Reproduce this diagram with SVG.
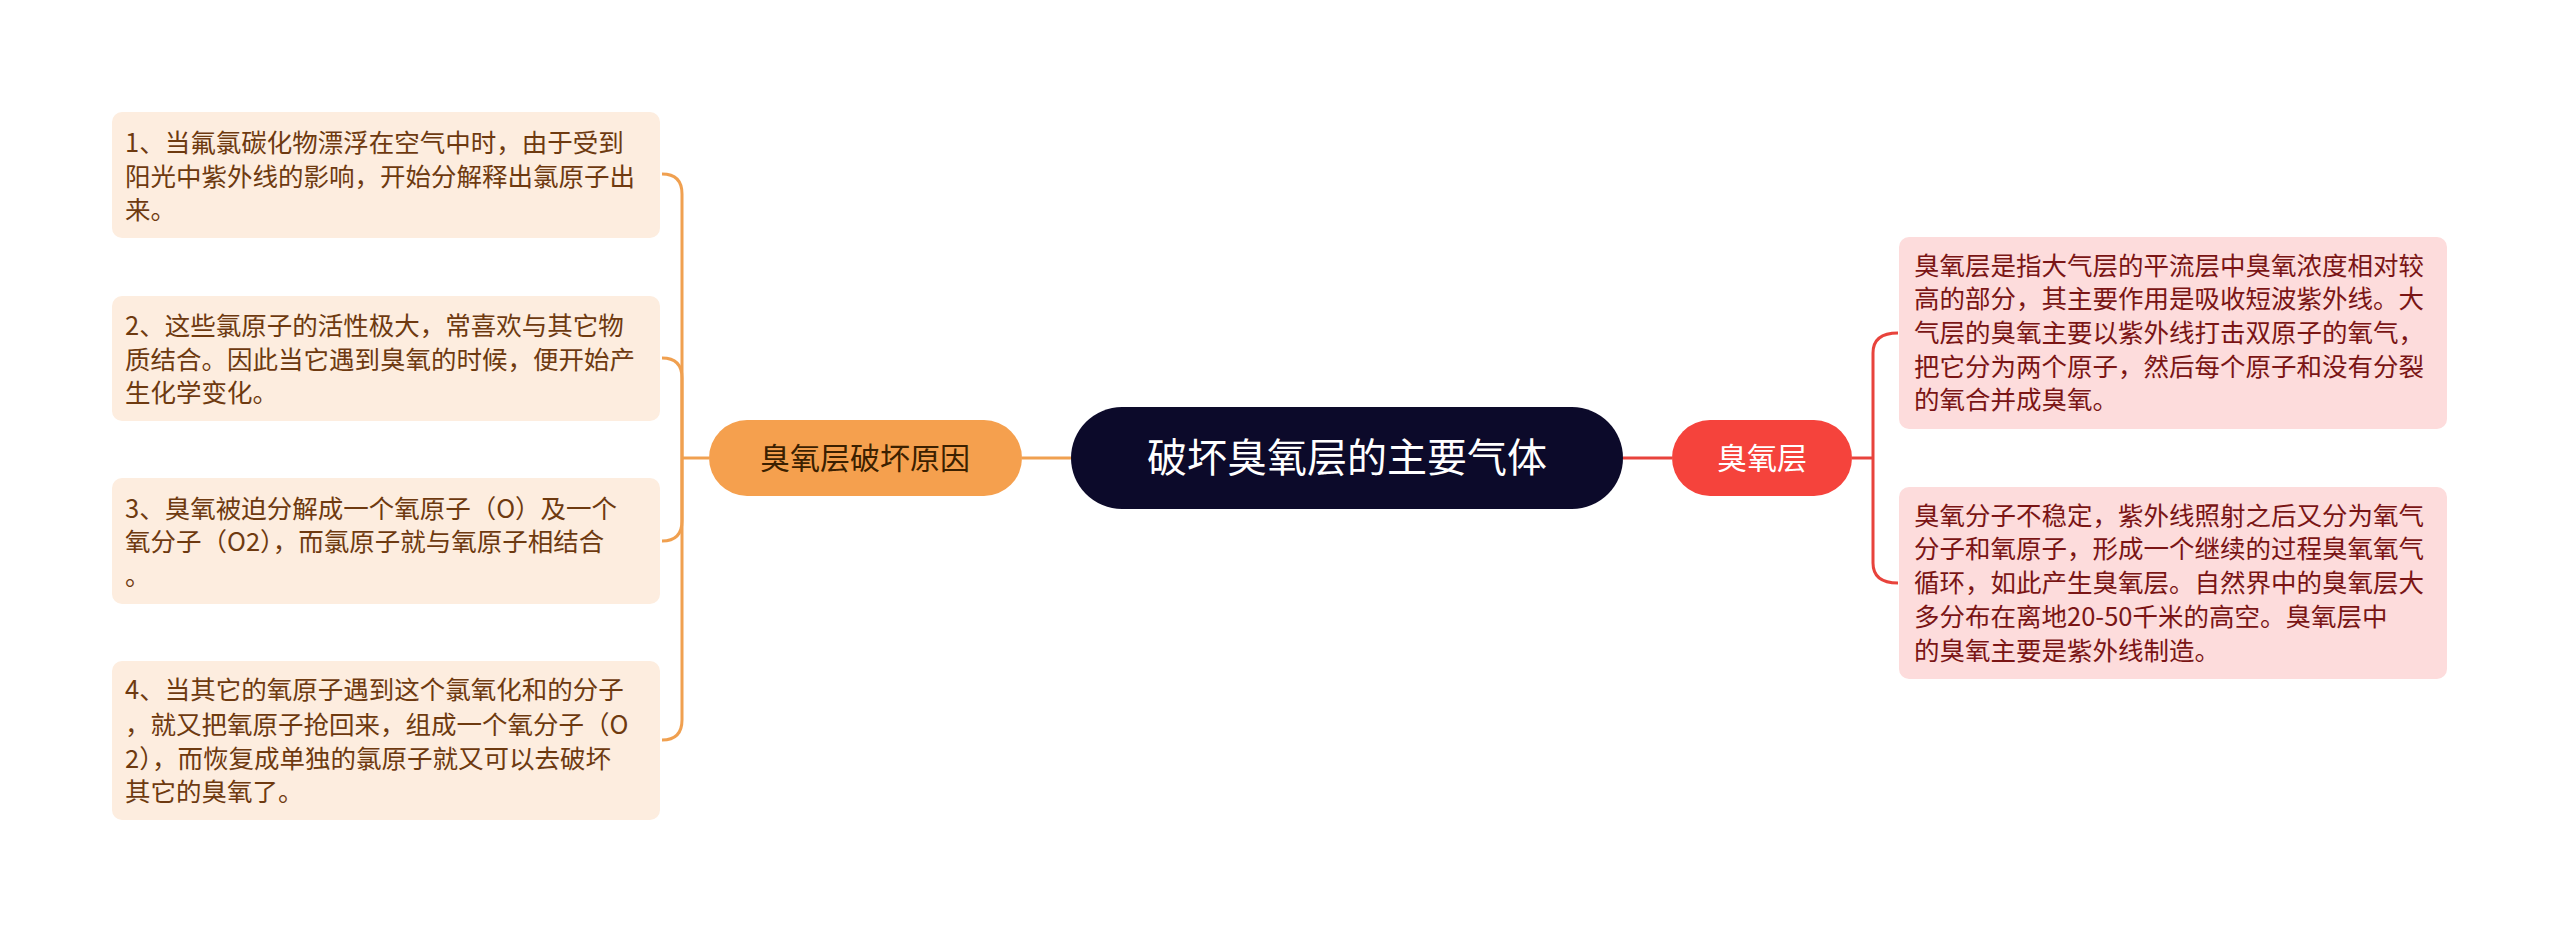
<svg xmlns="http://www.w3.org/2000/svg" width="2560" height="933" viewBox="0 0 2560 933">
<style>
text{font-family:"Noto Sans CJK SC","Noto Sans",sans-serif}
.lb{fill:#fdeddf}
.rb{fill:#fddcdc}
.lt{font-size:25.5px;fill:#6e3a10}
.rt{font-size:25.5px;fill:#7a1515}
.oc{fill:none;stroke:#f0a050;stroke-width:3}
.rc{fill:none;stroke:#e8433c;stroke-width:3}
</style>
<rect width="2560" height="933" fill="#fff"/>
<g id="connectors">
<path class="oc" d="M1071,458 H1022"/>
<path class="oc" d="M709,458 H682"/>
<path class="oc" d="M682,458 V194 Q682,174 662,174"/>
<path class="oc" d="M682,458 V378 Q682,358 662,358"/>
<path class="oc" d="M682,458 V521 Q682,541 662,541"/>
<path class="oc" d="M682,458 V720 Q682,740 662,740"/>
<path class="rc" d="M1623,458 H1672"/>
<path class="rc" d="M1852,458 H1873"/>
<path class="rc" d="M1873,458 V353 Q1873,333 1898,333"/>
<path class="rc" d="M1873,458 V563 Q1873,583 1898,583"/>
</g>
<g id="root">
<rect x="1071" y="407" width="552" height="102" rx="51" fill="#0c0a2a"/>
<text x="1347" y="472" font-size="40" fill="#fff" text-anchor="middle">破坏臭氧层的主要气体</text>
</g>
<g id="cause">
<rect x="709" y="420" width="313" height="76" rx="38" fill="#f5a04e"/>
<text x="865" y="469" font-size="30" fill="#3b2000" text-anchor="middle">臭氧层破坏原因</text>
</g>
<g id="ozone">
<rect x="1672" y="420" width="180" height="76" rx="38" fill="#f5433c"/>
<text x="1762" y="469" font-size="30" fill="#fff" text-anchor="middle">臭氧层</text>
</g>
<g id="l1">
<rect class="lb" x="112" y="112" width="548" height="126" rx="10"/>
<text class="lt" x="125"><tspan x="125" y="152">1、当氟氯碳化物漂浮在空气中时，由于受到</tspan><tspan x="125" y="186">阳光中紫外线的影响，开始分解释出氯原子出</tspan><tspan x="125" y="219">来。</tspan></text>
</g>
<g id="l2">
<rect class="lb" x="112" y="296" width="548" height="125" rx="10"/>
<text class="lt" x="125"><tspan x="125" y="335">2、这些氯原子的活性极大，常喜欢与其它物</tspan><tspan x="125" y="369">质结合。因此当它遇到臭氧的时候，便开始产</tspan><tspan x="125" y="402">生化学变化。</tspan></text>
</g>
<g id="l3">
<rect class="lb" x="112" y="478" width="548" height="126" rx="10"/>
<text class="lt" x="125"><tspan x="125" y="518">3、臭氧被迫分解成一个氧原子（O）及一个</tspan><tspan x="125" y="551">氧分子（O2），而氯原子就与氧原子相结合</tspan><tspan x="125" y="585">。</tspan></text>
</g>
<g id="l4">
<rect class="lb" x="112" y="661" width="548" height="159" rx="10"/>
<text class="lt" x="125"><tspan x="125" y="699">4、当其它的氧原子遇到这个氯氧化和的分子</tspan><tspan x="125" y="734">，就又把氧原子抢回来，组成一个氧分子（O</tspan><tspan x="125" y="768">2），而恢复成单独的氯原子就又可以去破坏</tspan><tspan x="125" y="801">其它的臭氧了。</tspan></text>
</g>
<g id="r1">
<rect class="rb" x="1899" y="237" width="548" height="192" rx="10"/>
<text class="rt"><tspan x="1914" y="275">臭氧层是指大气层的平流层中臭氧浓度相对较</tspan><tspan x="1914" y="308">高的部分，其主要作用是吸收短波紫外线。大</tspan><tspan x="1914" y="342">气层的臭氧主要以紫外线打击双原子的氧气，</tspan><tspan x="1914" y="376">把它分为两个原子，然后每个原子和没有分裂</tspan><tspan x="1914" y="409">的氧合并成臭氧。</tspan></text>
</g>
<g id="r2">
<rect class="rb" x="1899" y="487" width="548" height="192" rx="10"/>
<text class="rt"><tspan x="1914" y="525">臭氧分子不稳定，紫外线照射之后又分为氧气</tspan><tspan x="1914" y="558">分子和氧原子，形成一个继续的过程臭氧氧气</tspan><tspan x="1914" y="592">循环，如此产生臭氧层。自然界中的臭氧层大</tspan><tspan x="1914" y="626">多分布在离地20-50千米的高空。臭氧层中</tspan><tspan x="1914" y="660">的臭氧主要是紫外线制造。</tspan></text>
</g>
</svg>
